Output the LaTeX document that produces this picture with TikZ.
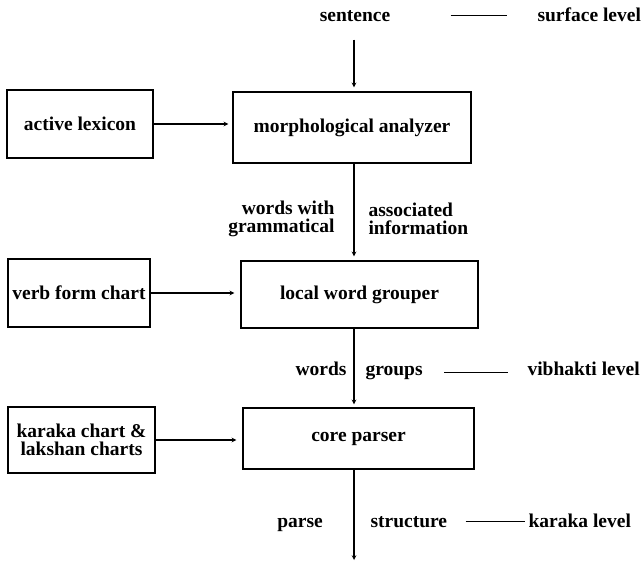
\documentclass[tikz,border=0pt]{standalone}
\usepackage{fontspec}
\setmainfont{Liberation Serif}
\tikzset{
  box/.style={draw, line width=1.3pt, inner sep=0pt, align=center,
    font=\bfseries\fontsize{19.5}{18}\selectfont},
  lbl/.style={inner sep=0pt, font=\bfseries\fontsize{19.5}{18}\selectfont},
  level/.style={line width=1.2pt},
}
\begin{document}
\begin{tikzpicture}[>=stealth, x=1pt, y=-1pt, line width=1.1pt]
  \useasboundingbox (0,0) rectangle (641,562);

  % Processing stages
  \node[box, minimum width=238, minimum height=71] (morph) at (352,127.5) {morphological analyzer};
  \node[box, minimum width=237, minimum height=67] (grouper) at (359.5,294.5) {local word grouper};
  \node[box, minimum width=231, minimum height=61] (core) at (358.5,438.5) {core parser};

  % Knowledge sources
  \node[box, minimum width=146, minimum height=68] (lexicon) at (80,124) {active lexicon};
  \node[box, minimum width=142, minimum height=68] (verbchart) at (79,293) {verb form chart};
  \node[box, minimum width=147, minimum height=66] (karaka) at (81.5,440) {karaka chart \&\\lakshan charts};

  % Stream labels and levels
  \node[lbl, anchor=base] (sentence) at (355,21) {sentence};
  \node[lbl, anchor=base west] (surface) at (537,21) {surface level};
  \node[lbl, anchor=east, align=right] (wordswith) at (335,219) {words with\\grammatical};
  \node[lbl, anchor=west, align=left] (assoc) at (368,219) {associated\\information};
  \node[lbl, anchor=base east] (words) at (347,375) {words};
  \node[lbl, anchor=base west] (groups) at (365,375) {groups};
  \node[lbl, anchor=base west] (vibhakti) at (527,375) {vibhakti level};
  \node[lbl, anchor=base] (parse) at (300,527) {parse};
  \node[lbl, anchor=base west] (structure) at (370,527) {structure};
  \node[lbl, anchor=base west] (karakalevel) at (528,527) {karaka level};
  \coordinate (out) at (354,560);

  % Main flow down the middle
  \draw[->, shorten <=18pt, shorten >=4pt] (sentence.south -| out) -- (morph.north -| out);
  \draw[->, shorten >=4pt] (morph.south -| out) -- (grouper.north -| out);
  \draw[->, shorten >=3pt] (grouper.south -| out) -- (core.north -| out);
  \draw[->] (core.south -| out) -- (out);

  % Side inputs
  \draw[->, shorten >=4pt] (lexicon) -- (lexicon -| morph.west);
  \draw[->, shorten >=6pt] (verbchart) -- (verbchart -| grouper.west);
  \draw[->, shorten >=6pt] (karaka) -- (karaka -| core.west);

  % Level markers
  \draw[level, shorten <=60pt, shorten >=30pt] (sentence.east) -- (sentence.east -| surface.west);
  \draw[level, shorten <=21pt, shorten >=19pt] (groups.east) -- (groups.east -| vibhakti.west);
  \draw[level, shorten <=18pt, shorten >=3pt] (structure.east) -- (structure.east -| karakalevel.west);
\end{tikzpicture}
\end{document}
